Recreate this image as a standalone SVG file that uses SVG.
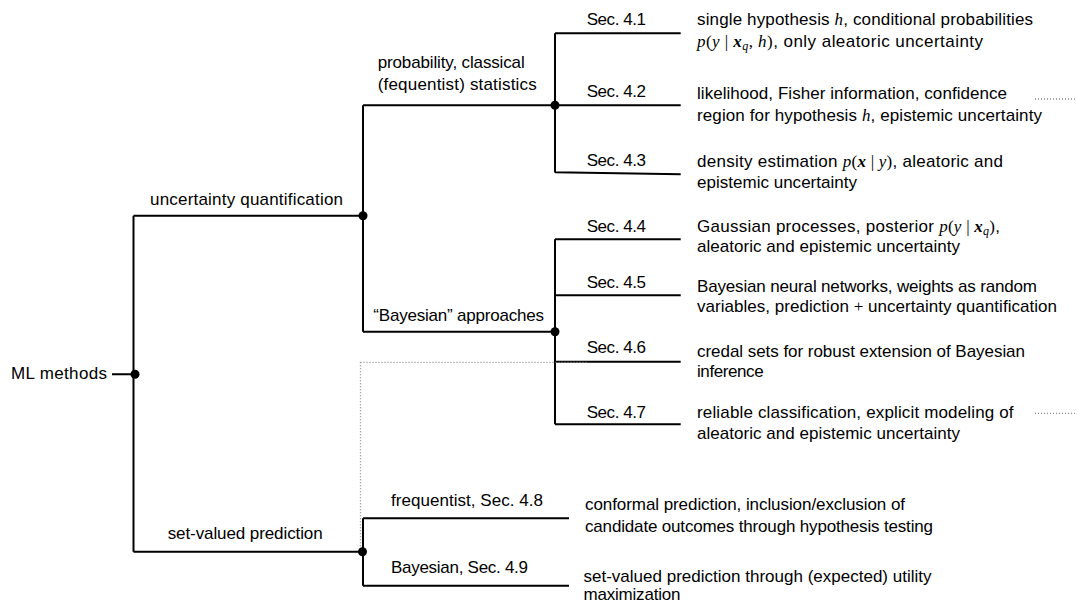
<svg xmlns="http://www.w3.org/2000/svg" width="1077" height="607" viewBox="0 0 1077 607">
<style>
text{font-family:"Liberation Sans",Arial,sans-serif;font-size:17px;fill:#000}
.m{font-family:"Liberation Serif","Times New Roman",serif;font-style:italic}
.b{font-family:"Liberation Serif","Times New Roman",serif;font-style:italic;font-weight:bold}
.r{font-family:"Liberation Serif","Times New Roman",serif}
.s{font-family:"Liberation Serif","Times New Roman",serif;font-style:italic;font-size:12px}
.ln{stroke:#000;stroke-width:2;fill:none}
.dt{stroke:#8a8a8a;stroke-width:1.3;stroke-dasharray:1 2;fill:none}
.dot{fill:#000}
</style>
<rect width="1077" height="607" fill="#fff"/>
<g id="connectors">
<path class="ln" d="M112,374.3H134.5M133.5,215.7V551.7M133.5,215.7H363M133.5,551.7H363"/>
<path class="ln" d="M363,105.3V331.7M363,105.3H555M363,331.7H555"/>
<path class="ln" d="M555,33.3V172.5M555,33.3H680.7M555,105.3H680.7M555,172.3L680.7,174.3"/>
<path class="ln" d="M555,239.3V424.3M555,239.3H680.7M555,295.3H680.7M555,361.7H680.7M555,424.3H680.7"/>
<path class="ln" d="M363,518.3V585.7M363,518.3H569M363,585.7H569"/>
<path class="dt" d="M360.5,362.3H587M360.5,362.3V551"/>
<path class="dt" d="M1035,99H1076M1035,413.3H1076"/>
</g>
<g id="n-root"><text x="11" y="379" textLength="96">ML methods</text><circle class="dot" cx="135" cy="374.3" r="4.5"/></g>
<g id="n-uq"><text x="150" y="205" textLength="193">uncertainty quantification</text><circle class="dot" cx="363" cy="215.7" r="4.5"/></g>
<g id="n-svp"><text x="167.7" y="539.3" textLength="155">set-valued prediction</text><circle class="dot" cx="362.5" cy="551.7" r="4.5"/></g>
<g id="n-prob"><text x="377.7" y="68.3" textLength="147">probability, classical</text><text x="377.7" y="89.5" textLength="159">(fequentist) statistics</text><circle class="dot" cx="555" cy="105.3" r="4.5"/></g>
<g id="n-bayes"><text x="373.3" y="321" textLength="170.7">“Bayesian” approaches</text><circle class="dot" cx="555" cy="331.7" r="4.5"/></g>
<g id="n-41"><text x="586.7" y="24.5" textLength="59.3">Sec. 4.1</text>
<text x="697" y="25" textLength="336">single hypothesis <tspan class="m">h</tspan>, conditional probabilities</text>
<text x="697" y="46.7" textLength="286"><tspan class="m">p</tspan><tspan class="r">(</tspan><tspan class="m">y</tspan><tspan class="r"> | </tspan><tspan class="b">x</tspan><tspan class="s" dy="3">q</tspan><tspan class="r" dy="-3">, </tspan><tspan class="m">h</tspan><tspan class="r">)</tspan>, only aleatoric uncertainty</text></g>
<g id="n-42"><text x="586.7" y="97.3" textLength="59.3">Sec. 4.2</text>
<text x="697" y="99.3" textLength="310">likelihood, Fisher information, confidence</text>
<text x="697" y="120.7" textLength="345">region for hypothesis <tspan class="m">h</tspan>, epistemic uncertainty</text></g>
<g id="n-43"><text x="586.7" y="165.5" textLength="59.3">Sec. 4.3</text>
<text x="697" y="166.7" textLength="306">density estimation <tspan class="m">p</tspan><tspan class="r">(</tspan><tspan class="b">x</tspan><tspan class="r"> | </tspan><tspan class="m">y</tspan><tspan class="r">)</tspan>, aleatoric and</text>
<text x="697" y="188.3" textLength="160">epistemic uncertainty</text></g>
<g id="n-44"><text x="586.7" y="231.7" textLength="59.3">Sec. 4.4</text>
<text x="697" y="231.7" textLength="303">Gaussian processes, posterior <tspan class="m">p</tspan><tspan class="r">(</tspan><tspan class="m">y</tspan><tspan class="r"> | </tspan><tspan class="b">x</tspan><tspan class="s" dy="3">q</tspan><tspan class="r" dy="-3">)</tspan>,</text>
<text x="697" y="251.7" textLength="263">aleatoric and epistemic uncertainty</text></g>
<g id="n-45"><text x="586.7" y="287.7" textLength="59.3">Sec. 4.5</text>
<text x="697" y="291.7" textLength="340">Bayesian neural networks, weights as random</text>
<text x="697" y="311.7" textLength="360">variables, prediction <tspan class="r">+</tspan> uncertainty quantification</text></g>
<g id="n-46"><text x="586.7" y="353.3" textLength="59.3">Sec. 4.6</text>
<text x="697" y="356.7" textLength="328">credal sets for robust extension of Bayesian</text>
<text x="697" y="376.7" textLength="66.6">inference</text></g>
<g id="n-47"><text x="586.7" y="417.7" textLength="59.3">Sec. 4.7</text>
<text x="697" y="418.3" textLength="316.6">reliable classification, explicit modeling of</text>
<text x="697" y="439.3" textLength="263">aleatoric and epistemic uncertainty</text></g>
<g id="n-48"><text x="391" y="506" textLength="152">frequentist, Sec. 4.8</text>
<text x="585" y="510" textLength="320">conformal prediction, inclusion/exclusion of</text>
<text x="585" y="531.7" textLength="348">candidate outcomes through hypothesis testing</text></g>
<g id="n-49"><text x="391" y="573.3" textLength="137">Bayesian, Sec. 4.9</text>
<text x="583.5" y="581.7" textLength="348">set-valued prediction through (expected) utility</text>
<text x="583.5" y="600" textLength="97">maximization</text></g>
</svg>
